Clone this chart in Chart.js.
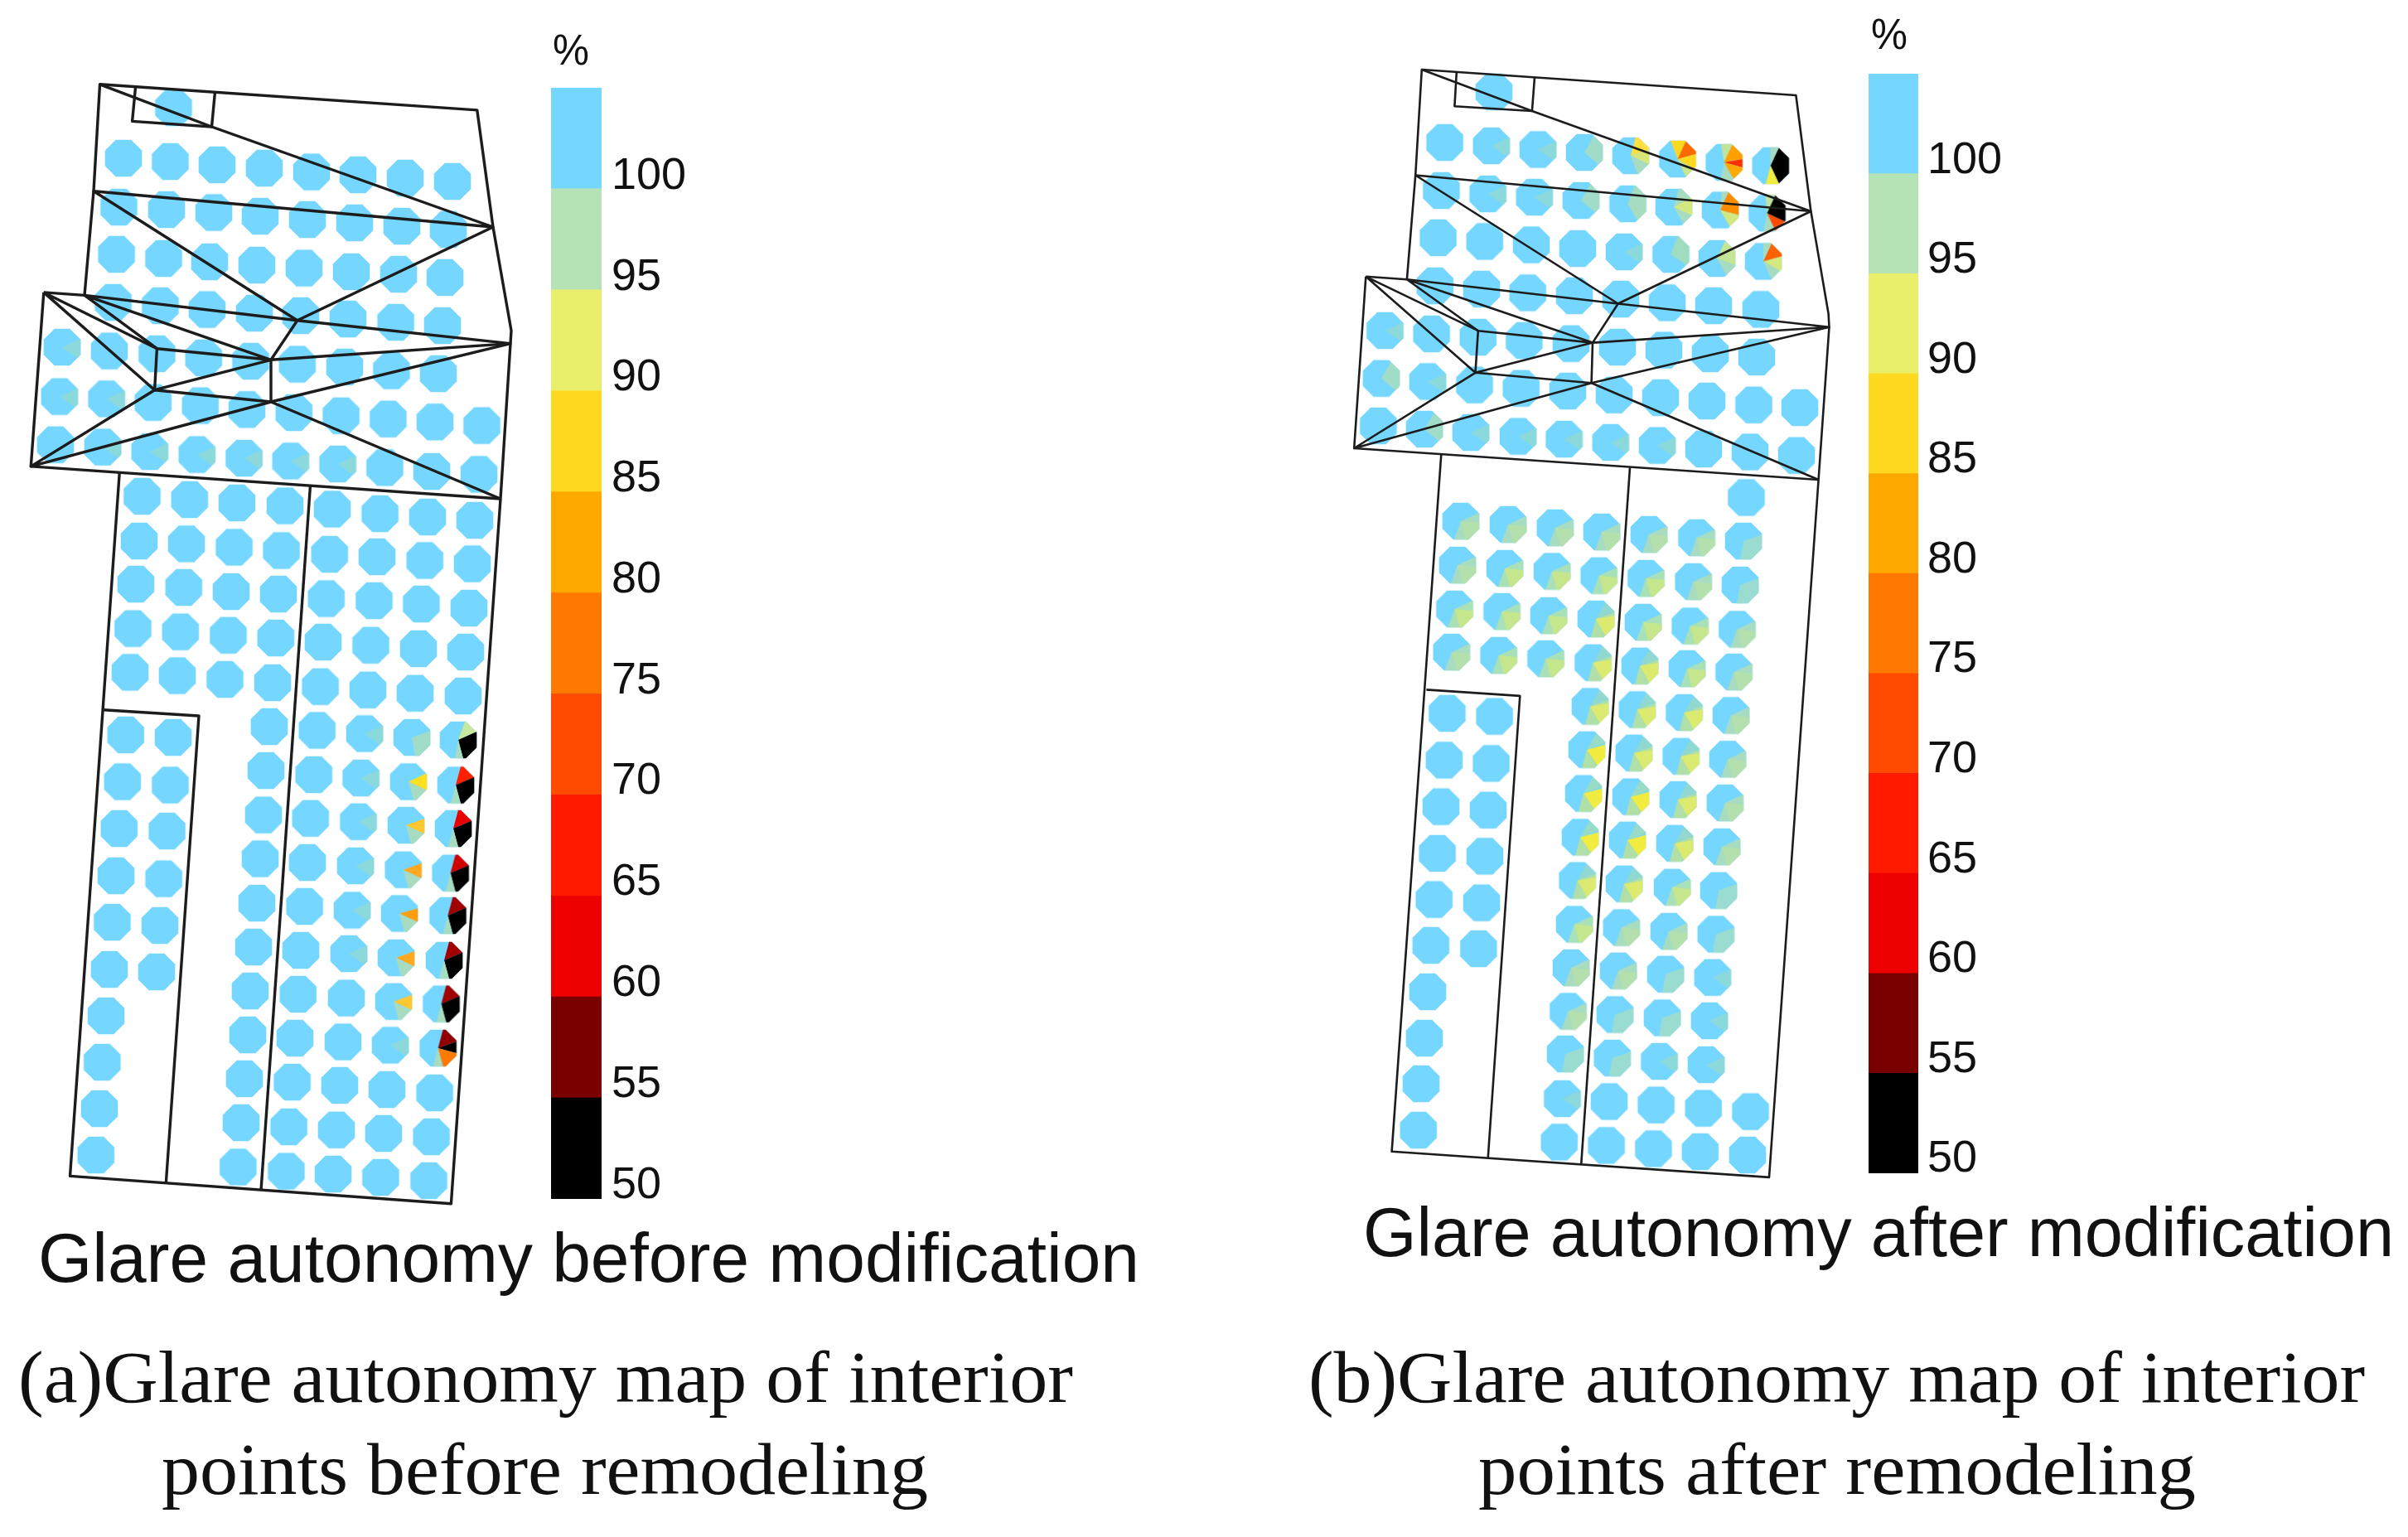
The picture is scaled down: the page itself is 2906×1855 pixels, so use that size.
<!DOCTYPE html>
<html><head><meta charset="utf-8">
<style>html,body{margin:0;padding:0;background:#fff;width:2906px;height:1855px;overflow:hidden}canvas{position:absolute;display:block;filter:blur(0.6px)}</style>
<script src="https://cdn.jsdelivr.net/npm/chart.js@4"></script>
</head><body>
<canvas id="main" width="2906" height="1855" style="left:0;top:0"></canvas>
<canvas id="barA" width="180" height="1341" style="left:665px;top:106px"></canvas>
<canvas id="barB" width="180" height="1327" style="left:2255px;top:89px"></canvas>
<script>
const scaleValues=[50,55,60,65,70,75,80,85,90,95,100];
const scaleColors=['#000000','#780000','#ee0000','#ff1a00','#ff4a00','#ff7800','#ffa800','#ffd920','#e9ef6a','#b6e3b6','#75d7ff'];
const BLUE='#75d7ff',GRN='#a8dcc0';
const pieKinds={
 plain:[],
 f:[[65,125,'#8cd9dc']],
 g:[[70,170,'#a0dcc8']],
 h:[[30,130,'#a0dcc8']],
 r6:[[20,66,'#c8e8a0'],[66,165,'#000'],[165,190,GRN]],
 rd1:[[15,67,'#ff2000'],[67,165,'#000'],[165,195,GRN]],
 rd2:[[15,67,'#e80000'],[67,165,'#000'],[165,195,GRN]],
 rd3:[[15,67,'#d00000'],[67,165,'#000'],[165,195,GRN]],
 rd4:[[15,67,'#a00000'],[67,165,'#000'],[165,195,GRN]],
 rdo:[[15,70,'#900000'],[70,105,'#000'],[105,165,'#ff7a00'],[165,195,GRN]],
 yy:[[65,115,'#ffe020'],[115,165,GRN]],
 go:[[70,115,'#ffc830'],[115,165,GRN]],
 o1:[[70,115,'#ffa820'],[115,165,GRN]],
 o2:[[75,115,'#ff9c10'],[115,165,GRN]],
 s0:[[70,190,'#9adcd0']],
 s1:[[65,200,GRN],[95,165,'#b4e0ae']],
 s2:[[65,200,'#a8e0b8'],[95,165,'#c6e68e']],
 s3:[[30,70,'#90d8d0'],[70,195,'#b0e0a8'],[80,150,'#dcea70']],
 s4:[[30,70,'#98dcc8'],[145,195,'#b0e0a8'],[75,145,'#f2ec40']],
 t15:[[15,70,'#ffe040'],[70,115,'#d8e878'],[115,160,GRN]],
 t16:[[-20,25,'#ffd920'],[25,75,'#ff6a00'],[75,120,'#ffd920'],[120,155,'#c8e68a']],
 t17:[[-10,25,'#c0e4a0'],[25,80,'#ffa000'],[80,105,'#ff3000'],[105,150,'#ffa800'],[150,190,GRN]],
 t18:[[0,25,GRN],[25,155,'#000'],[155,195,'#f2ec40']],
 t25:[[20,150,GRN]],
 t26:[[15,60,GRN],[60,115,'#d4e880'],[115,150,GRN]],
 t27:[[5,25,'#a8dcc0'],[25,105,'#ff8c00'],[105,150,'#d4e880']],
 t28:[[-5,25,'#c0e4a0'],[25,115,'#000'],[115,155,'#ff4a00'],[155,190,GRN]],
 t36:[[20,125,'#a0dcc0']],
 t37:[[25,110,'#c4e496'],[110,150,GRN]],
 t38:[[0,25,GRN],[25,75,'#ff6000'],[75,120,'#d4e880'],[120,155,GRN]]
};
const marksA=[
[209.5,130],
[149,191],[205.5,195],[262,199],[319,203],[376,207.5],[432,211],[489,215],[546,219],
[143.5,250],[201,253],[258,256.5],[314,261],[371,265],[428,269],[485,273],[541,277],
[140.6,307],[197.5,312],[253,316],[310,320],[367,323.6],[424,328],[481,331],[537,335],
[136.6,365],[193.5,369],[250,373.6],[307,378],[363,381],[420,385],[477.6,389],[534,393],
[75,419,'f'],[132,423.6],[189.4,427],[245.7,432],[302.5,436],[358.8,439.6],[416,443],[472.4,447.5],[529,451],
[71.8,478.6,'f'],[128.6,481.4,'f'],[184.8,485.7],[241.7,489.6],[298,494.3],[354.8,498],[411.6,501.8],[468.4,505.7],[525,509.3],[581.5,513.6],
[67,536.8],[124,539.6,'f'],[180.8,545,'f'],[237.7,548.6,'f'],[294.5,553,'f'],[350.7,556.4,'f'],[407.6,560,'f'],[464.4,564.3],[521,569],[578,572.5],
[171.5,599],[228.8,603],[286,607],[344,610.5],[401,614.5],[458.6,620],[516,624],[573,628],
[168,653],[225,656.4],[282.6,660.5],[339.6,664.5],[397.7,669],[455,672],[512.7,676.5],[570,680.5],
[164,705],[221.7,709],[279,714],[336,717],[393.7,722.5],[451.5,725],[508.4,729],[566,734],
[160.4,758.6],[217.8,762.6],[275.5,766.7],[332.8,770],[390,775],[447.5,778.7],[505,783],[562,787],
[157,811.4],[214,815.5],[271.5,820],[329,824],[386.6,828.7],[444,832.7],[501,836.7],[559,840],
[151.7,887],[209,890],[325,877],[382.7,881.5],[440,885.5,'f'],[497,890,'g'],[553,893,'r6'],
[147.8,943.5],[205.5,947.5],[321,930],[378.7,935],[435.6,939,'f'],[493,943.5,'yy'],[550,947.5,'rd1'],
[143.8,1000],[201.6,1003],[318,983.6],[374.7,987.7],[432.5,991.7,'f'],[490,996,'go'],[547,1000,'rd2'],
[140,1057],[197.6,1060.6],[314,1036.5],[371,1041],[429,1045,'f'],[486.6,1049.7,'o1'],[543.6,1053.7,'rd3'],
[135.5,1113],[193,1117],[310,1090],[367.6,1094],[425,1098.5,'f'],[482,1102.5,'o2'],[540.4,1105,'rd4'],
[132,1170],[189,1173],[306,1143],[363,1147],[421,1151,'f'],[478,1156,'o1'],[536,1159,'rd4'],
[128,1226],[302,1196],[359.7,1200],[418,1204.6],[475,1208.7,'go'],[532.5,1211.6,'rd4'],
[123.3,1282],[299,1249],[356,1253],[414,1257.5],[471,1261.5,'f'],[528.6,1265,'rdo'],
[120,1338],[295,1302],[352.6,1306],[410,1310],[467,1315],[524.6,1319],
[115.8,1394],[291,1355],[348.6,1360],[406,1363.7],[463,1368],[520.6,1372],
[287.4,1408.5],[345.5,1413.6],[402,1417],[459.4,1421],[517.5,1425]
];
const marksB=[
[1803,111],
[1743.6,172],[1799.8,176,'f'],[1856,180.5,'f'],[1912,184,'h'],[1968,188,'t15'],[2024.5,192,'t16'],[2080.6,196,'t17'],[2136.7,200,'t18'],
[1739.4,230],[1795.6,234,'f'],[1851.7,238,'f'],[1907.9,242,'h'],[1964.5,246,'t25'],[2020,250,'t26'],[2076,253.5,'t27'],[2132.5,257.3,'t28'],
[1735.6,287],[1791.8,291.4],[1848,295.5],[1904,300],[1960,304,'f'],[2016.4,307,'t36'],[2072,312,'t37'],[2128,315.5,'t38'],
[1731.8,345],[1788,349],[1843.7,353.4],[1900,357],[1956,361],[2012,365.4],[2068,369],[2125,373.4],
[1671.4,399,'f'],[1727.6,403],[1783.8,407],[1839.4,411],[1896,414.7],[1952,419],[2008,422.6],[2064,427],[2120,431],
[1667,456.7,'h'],[1723,460.5,'f'],[1779.5,464.6],[1835.7,468.7],[1892,472],[1948,476.7],[2004,480],[2060,484],[2116.5,488.7],[2172,492],
[1663.4,514],[1719,518,'h'],[1775,522,'f'],[1832,526.6,'f'],[1887.6,530,'f'],[1943.7,534,'f'],[2000,537.6,'f'],[2056,542],[2112,545.5],[2168,549.7],
[2107.5,600.5],
[1762.9,629,'s1'],[1820,633,'s1'],[1876.8,637,'s1'],[1933,642,'s1'],[1990,645,'s1'],[2047.5,649,'s1'],[2104,653,'s0'],
[1759,682,'s1'],[1816,686,'s2'],[1873,689.5,'s2'],[1929.6,694.7,'s2'],[1986.4,698,'s2'],[2043.6,702,'s1'],[2100,706,'s0'],
[1755.4,735,'s2'],[1812.5,738,'s2'],[1869,743,'s2'],[1926,747,'s3'],[1983,751,'s2'],[2039.6,755.5,'s2'],[2096.4,759.5,'s1'],
[1751.8,787,'s1'],[1808.6,791,'s2'],[1865.4,795,'s2'],[1922.5,799.7,'s3'],[1979,803.7,'s3'],[2036,807,'s2'],[2092.5,811,'s1'],
[1746.4,861],[1803.6,864.6],[1919,852.5,'s3'],[1975.7,856.5,'s3'],[2032.5,860,'s3'],[2089,863.4,'s1'],
[1742.9,917.4],[1799.6,921.4],[1915,904.8,'s4'],[1971.8,908.8,'s3'],[2028.6,912.8,'s3'],[2085,916.2,'s1'],
[1739,973.6],[1796,977.7],[1911,957.6,'s4'],[1968,961.6,'s4'],[2025,965,'s3'],[2081.8,969,'s1'],
[1734.6,1030],[1792,1033.4],[1907,1010.4,'s4'],[1964,1013.8,'s4'],[2021,1017.8,'s3'],[2078,1022,'s1'],
[1730.7,1085.6],[1788,1089.6],[1903.6,1062.6,'s3'],[1960,1066.7,'s3'],[2018,1070.7,'s2'],[2074,1074.7,'s0'],
[1726.8,1141],[1784.3,1145],[1900,1115.5,'s2'],[1956.8,1119.5,'s1'],[2014,1124,'s1'],[2070.7,1127.5,'s0'],
[1723,1197],[1896,1168,'s1'],[1953,1171.7,'s1'],[2010,1175.7,'s0'],[2066.8,1179.7,'f'],
[1719,1253],[1892.5,1220.5,'s1'],[1949,1224.5,'s0'],[2006,1228.5,'s0'],[2063,1232,'f'],
[1715,1308],[1889,1272,'s0'],[1945.7,1277,'s0'],[2002.5,1281,'f'],[2059,1285,'f'],
[1885.4,1326,'f'],[1942,1329.5],[1998.6,1333.6],[2055.7,1337.6],[2112.5,1341.6],
[1711.8,1364],[1881.8,1378.4],[1938.6,1382.4],[1995.4,1386.4],[2051.8,1390],[2109,1394]
];
const outlineA=[
[[102,356.4],[113,230.7],[120.5,101.8],[575.8,132.9],[595,274],[617,399],[616,414.6],[604,602],[544.4,1452.7],[84.5,1419.4],[144.2,570.5]],
[[163.6,104.6],[159.6,146.4],[255.5,153],[259.5,110.7]],
[[120.5,101.8],[255.5,153],[595,274],[113,230.7],[358.8,386.8],[595,274]],
[[52.8,352.9],[102,356.4],[358.8,386.8],[616,414.6],[327,434.3],[358.8,386.8]],
[[52.8,352.9],[37.3,562.9],[604,602]],
[[52.8,352.9],[186.6,470.7],[189.4,420.7],[52.8,352.9]],
[[102,356.4],[189.4,420.7],[327,434.3],[102,356.4]],
[[186.6,470.7],[327,434.3],[327,485],[186.6,470.7],[37.3,562.9],[327,485],[616,414.6]],
[[327,485],[604,602]],
[[374.4,587],[315,1436.6]],
[[125.2,856.8],[240,864],[200.4,1427]]
];
const outlineB=[
[[1697.9,337.2],[1708.2,211.5],[1715.8,84],[2167.4,115],[2185.4,255],[2206.6,378.5],[2207.5,394.7],[2194.6,579],[2135,1420.9],[1679.6,1389.8],[1739.3,548]],
[[1757.8,87.5],[1755.4,128.2],[1848.9,134],[1852,93.4]],
[[1715.8,84],[1848.9,134],[2185.4,255],[1708.2,211.5],[1952.7,366.5],[2185.4,255]],
[[1648.3,333.8],[1697.9,337.2],[1952.7,366.5],[2207.5,394.7],[1922,413.6],[1952.7,366.5]],
[[1648.3,333.8],[1634.2,541],[2194.6,579]],
[[1648.3,333.8],[1780.5,449.8],[1783.8,399.2],[1648.3,333.8]],
[[1697.9,337.2],[1783.8,399.2],[1922,413.6],[1697.9,337.2]],
[[1780.5,449.8],[1922,413.6],[1920.6,462.2],[1780.5,449.8],[1634.2,541],[1920.6,462.2],[2207.5,394.7]],
[[1920.6,462.2],[2194.6,579]],
[[1967,564.4],[1908.2,1405.3]],
[[1721.4,832.4],[1834.3,839.9],[1795.7,1397.9]]
];
const SANS='"Liberation Sans",Arial,sans-serif',SERIF='"Liberation Serif",serif';
const labelsText=[
 {t:'%',x1:667,x2:711,y:78,size:52,font:SANS},
 {t:'%',x1:2258,x2:2302,y:59,size:52,font:SANS},
 {t:'Glare autonomy before modification',x1:46,x2:1375,y:1547,size:84,font:SANS},
 {t:'Glare autonomy after modification',x1:1645,x2:2889,y:1516,size:84,font:SANS},
 {t:'(a)Glare autonomy map of interior',x1:22,x2:1295,y:1692,size:88,font:SERIF},
 {t:'points before remodeling',x1:195,x2:1120,y:1803,size:88,font:SERIF},
 {t:'(b)Glare autonomy map of interior',x1:1579,x2:2854,y:1692,size:88,font:SERIF},
 {t:'points after remodeling',x1:1784,x2:2650,y:1803,size:88,font:SERIF}
];

const SIZE=54,FLAT=22.3,cache={};
function markImage(kind){
 if(cache[kind])return cache[kind];
 const c=document.createElement('canvas');c.width=c.height=SIZE;
 const g=c.getContext('2d'),m=SIZE/2,R=FLAT/Math.cos(Math.PI/8);
 g.beginPath();
 for(let i=0;i<8;i++){const a=Math.PI/8+i*Math.PI/4;g.lineTo(m+R*Math.cos(a),m+R*Math.sin(a));}
 g.closePath();g.fillStyle=BLUE;g.fill();g.clip();
 pieKinds[kind].forEach(([a,b,col])=>{
  g.beginPath();g.moveTo(m,m);
  g.arc(m,m,R+3,(a-90)*Math.PI/180,(b-90)*Math.PI/180);
  g.closePath();g.fillStyle=col;g.fill();
 });
 return cache[kind]=c;
}
function markDataset(marks){
 return {type:'scatter',order:2,showLine:false,clip:false,
  data:marks.map(m=>({x:m[0],y:m[1]})),
  pointRadius:22,pointHoverRadius:22,
  pointStyle:ctx=>markImage(marks[ctx.dataIndex]?.[2]||'plain')};
}
function lineDatasets(outline,width){
 return outline.map(seg=>({type:'scatter',order:1,showLine:true,clip:false,tension:0,
  data:seg.map(p=>({x:p[0],y:p[1]})),pointRadius:0,borderColor:'#1c1c1c',borderWidth:width,fill:false,borderJoinStyle:'round'}));
}
const textPlugin={id:'pageText',afterDraw(chart){
 const g=chart.ctx;
 labelsText.forEach(l=>{
  g.save();g.font=l.size+'px '+l.font;g.fillStyle='#111';g.textBaseline='alphabetic';g.textAlign='left';
  const w=g.measureText(l.t).width;
  g.translate(l.x1,l.y);g.scale((l.x2-l.x1)/w,1);g.fillText(l.t,0,0);g.restore();
 });
}};
Chart.defaults.animation=false;
new Chart(document.getElementById('main'),{
 type:'scatter',
 data:{datasets:[markDataset(marksA),markDataset(marksB),...lineDatasets(outlineA,3.4),...lineDatasets(outlineB,2.6)]},
 options:{responsive:false,animation:false,events:[],layout:{padding:0,autoPadding:false},
  plugins:{legend:{display:false},tooltip:{enabled:false},title:{display:false}},
  scales:{x:{type:'linear',display:false,min:0,max:2906},y:{type:'linear',display:false,reverse:true,min:0,max:1855}}},
 plugins:[textPlugin]
});
function colorBar(id,tickMin,tickMax,axisWidth,pad){
 new Chart(document.getElementById(id),{
  type:'bar',
  data:{labels:[''],datasets:scaleValues.map((v,i)=>({data:[[v,v+5]],backgroundColor:scaleColors[i],borderWidth:0,barPercentage:1,categoryPercentage:1,yAxisID:'y'}))},
  options:{responsive:false,animation:false,events:[],layout:{padding:0,autoPadding:false},
   plugins:{legend:{display:false},tooltip:{enabled:false}},
   scales:{
    x:{display:false,stacked:true},
    y:{display:false,min:50,max:105},
    y2:{type:'linear',position:'right',min:tickMin,max:tickMax,
     grid:{display:false,drawTicks:false},border:{display:false},
     ticks:{stepSize:5,includeBounds:false,padding:pad,color:'#111',font:{family:SANS,size:54},autoSkip:false,
      callback:v=>scaleValues.includes(v)?String(v):''},
     afterFit(s){s.width=axisWidth;s.paddingTop=0;s.paddingBottom=0;s.paddingLeft=0;s.paddingRight=0;}}
   }},
  plugins:[{id:'y2force',beforeInit(c){c.data.datasets.push({data:[],yAxisID:'y2'});}}]
 });
}
colorBar('barA',49.33,104.39,119,12);
colorBar('barB',49.30,104.36,120,11);
</script>
</body></html>
